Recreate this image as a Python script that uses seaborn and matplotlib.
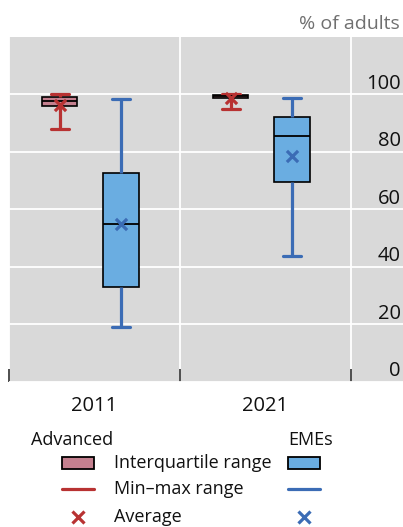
import pandas as pd
import seaborn as sns
import matplotlib.pyplot as plt
import matplotlib.transforms as mtransforms
from matplotlib.patches import Rectangle
from matplotlib.lines import Line2D

# five-number summaries (% of adults)
years = ['2011', '2021']
adv_min = [87.9, 94.9]
adv_q1 = [95.9, 98.6]
adv_med = [97.8, 99.3]
adv_q3 = [99.2, 99.8]
adv_max = [100.0, 100.0]
adv_mean = [96.2, 98.9]

eme_min = [19.1, 43.7]
eme_q1 = [32.8, 69.6]
eme_med = [54.8, 85.5]
eme_q3 = [72.5, 92.1]
eme_max = [98.4, 98.9]
eme_mean = [54.9, 78.6]

yticks = [0, 20, 40, 60, 80, 100]

adv_fill, adv_line = '#C4808F', '#B83232'
eme_fill, eme_line = '#6AADE1', '#3B6CB5'

sns.set_style('whitegrid', {'axes.facecolor': '#D9D9D9', 'grid.color': 'white'})
plt.rcParams['font.family'] = ['Open Sans', 'DejaVu Sans']
plt.rcParams['text.color'] = '#111111'
plt.rcParams['xtick.labelcolor'] = '#111111'
plt.rcParams['ytick.labelcolor'] = '#111111'

fig = plt.figure(figsize=(4.03, 5.27), dpi=100)
ax = fig.add_axes([9 / 403, 1 - 381.7 / 527, 394 / 403, 344.7 / 527])


def long_frame(offset, mins, q1s, meds, q3s, maxs):
    rows = []
    for i in range(len(years)):
        for v in (mins[i], q1s[i], meds[i], q3s[i], maxs[i]):
            rows.append({'pos': i + offset, 'value': v})
    return pd.DataFrame(rows)


groups = [
    (0.298, adv_min, adv_q1, adv_med, adv_q3, adv_max, adv_mean, adv_fill, adv_line),
    (0.655, eme_min, eme_q1, eme_med, eme_q3, eme_max, eme_mean, eme_fill, eme_line),
]

for off, mn, q1, md, q3, mx, mean, fill, line in groups:
    df = long_frame(off, mn, q1, md, q3, mx)
    sns.boxplot(data=df, x='pos', y='value', orient='x', native_scale=True,
                width=0.205, whis=(0, 100), color=fill, linecolor='black',
                linewidth=1.2, saturation=1, ax=ax,
                whiskerprops={'color': line, 'linewidth': 2.3},
                capprops={'color': line, 'linewidth': 2.3},
                medianprops={'color': 'black', 'linewidth': 1.3})
    sns.scatterplot(x=[i + off for i in range(len(years))], y=mean, marker='x',
                    s=65, linewidth=2.3, color=line, ax=ax, zorder=5)

ax.set_xlim(0, 394 / 171)
ax.set_ylim(0, 120)
ax.set_xticks([0, 1, 2])
ax.set_xticklabels([])
ax.set_xticks([0.5, 1.5], minor=True)
ax.set_xticklabels(years, minor=True, fontsize=14.5)
ax.tick_params(axis='x', which='major', direction='in', length=9.5, width=1.3,
               color='#404040', bottom=True)
ax.tick_params(axis='x', which='minor', length=0, pad=10)
ax.set_yticks(yticks)
ax.tick_params(axis='y', left=False, right=False, labelleft=False,
               labelright=True, pad=-5, labelsize=14.5)
offset = mtransforms.ScaledTranslation(0, 0.5 / 72, fig.dpi_scale_trans)
for lab in ax.get_yticklabels():
    lab.set_ha('right')
    lab.set_va('bottom')
    lab.set_transform(lab.get_transform() + offset)
ax.grid(True, which='major', color='white', linewidth=1.3)
ax.set_xlabel('')
ax.set_ylabel('')
for s in ax.spines.values():
    s.set_visible(False)

fig.text(400 / 403, 1 - 24 / 527, '% of adults', ha='right', va='center',
         fontsize=14, color='#707070')

# legend drawn by hand in figure pixels
def fx(px):
    return px / 403


def fy(py):
    return 1 - py / 527


lfs = 13
fig.text(fx(31), fy(440), 'Advanced', ha='left', va='center', fontsize=lfs)
fig.text(fx(288), fy(440), 'EMEs', ha='left', va='center', fontsize=lfs)
labels = ['Interquartile range', 'Min–max range', 'Average']
rows_y = [462.7, 489.3, 516.5]
for lab, yy in zip(labels, rows_y):
    fig.text(fx(114), fy(yy), lab, ha='left', va='center', fontsize=lfs)
for x0, fill, line in [(62, adv_fill, adv_line), (288, eme_fill, eme_line)]:
    fig.add_artist(Rectangle((fx(x0), fy(469)), fx(32), 12.5 / 527,
                             facecolor=fill, edgecolor='black', linewidth=1.3,
                             transform=fig.transFigure))
    fig.add_artist(Line2D([fx(x0), fx(x0 + 32)], [fy(rows_y[1])] * 2,
                          color=line, linewidth=2.3, transform=fig.transFigure))
    fig.add_artist(Line2D([fx(x0 + 16)], [fy(rows_y[2])], marker='x',
                          markersize=8, markeredgewidth=2.3, color=line,
                          linestyle='none', transform=fig.transFigure))

fig.savefig('out.png', dpi=100)
